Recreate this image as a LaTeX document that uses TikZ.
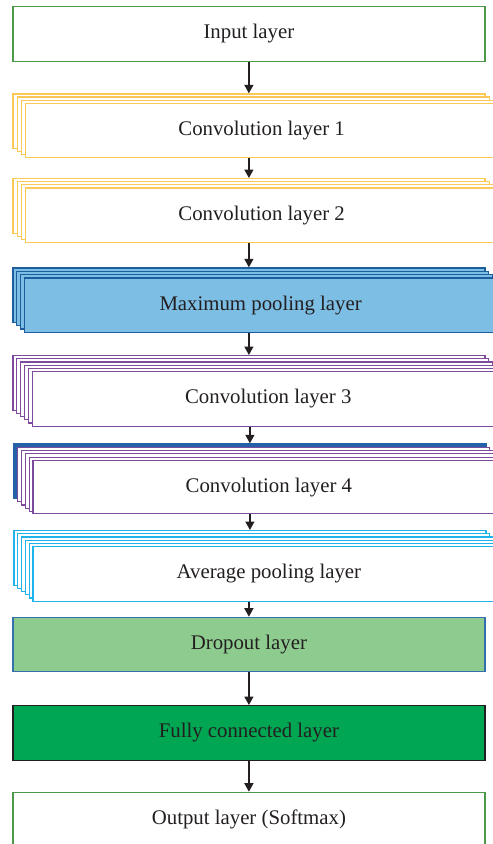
\documentclass[tikz,border=0pt]{standalone}
\usepackage{fontspec}
\setmainfont{Liberation Serif}
\usetikzlibrary{arrows.meta}

\definecolor{textgray}{HTML}{231F20}
\definecolor{iogreen}{HTML}{4C9A47}
\definecolor{convyellow}{HTML}{FCC856}
\definecolor{poolblue}{HTML}{7CBEE4}
\definecolor{pooledge}{HTML}{1D5E9C}
\definecolor{convpurple}{HTML}{7D4A9E}
\definecolor{deepblue}{HTML}{2461A8}
\definecolor{avgcyan}{HTML}{1EB3EA}
\definecolor{dropgreen}{HTML}{8ECB8F}
\definecolor{dropedge}{HTML}{3470AE}
\definecolor{fcgreen}{HTML}{00A651}

\begin{document}
\begin{tikzpicture}[x=1pt,y=-1pt,
  layer/.style={draw,line width=1.2pt,minimum width=472pt,minimum height=54.5pt,
    anchor=north west,inner sep=0pt,fill=white,
    font=\fontsize{20.8}{25}\selectfont,text=textgray},
  flow/.style={-{Triangle[length=8.5pt,width=9pt]},line width=1.3pt,draw=textgray}]
  \useasboundingbox (0,0) rectangle (493,844);
  \clip (0,0) rectangle (493,844);

  % input
  \node[layer,draw=iogreen] (input) at (12.3,6) {Input layer};

  % convolution 1 and 2
  \foreach \i in {0,...,2}
    \node[layer,draw=convyellow] (conv1-\i) at ({12.3+4.2*\i},{93.3+3.1*\i}) {};
  \node[layer,draw=convyellow] (conv1) at (25,102.7) {Convolution layer 1};
  \foreach \i in {0,...,2}
    \node[layer,draw=convyellow] (conv2-\i) at ({12.3+4.2*\i},{178+3.1*\i}) {};
  \node[layer,draw=convyellow] (conv2) at (25,187.4) {Convolution layer 2};

  % max pooling
  \foreach \i in {0,...,2}
    \node[layer,draw=pooledge,fill=poolblue] (maxp-\i) at ({12.3+3.9*\i},{267.3+3.3*\i}) {};
  \node[layer,draw=pooledge,fill=poolblue] (maxp) at (24,277.3) {Maximum pooling layer};

  % convolution 3 and 4
  \foreach \i in {0,...,4}
    \node[layer,draw=convpurple] (conv3-\i) at ({12.3+3.9*\i},{355+3.2*\i}) {};
  \node[layer,draw=convpurple] (conv3) at (31.7,371) {Convolution layer 3};
  \node[layer,draw=deepblue,fill=deepblue] (conv4-0) at (13.3,443.3) {};
  \foreach \i in {1,...,4}
    \node[layer,draw=convpurple] (conv4-\i) at ({13.3+3.8*\i},{443.3+3.3*\i}) {};
  \node[layer,draw=convpurple,minimum height=53pt] (conv4) at (32.3,460) {Convolution layer 4};

  % average pooling
  \foreach \i in {0,...,4}
    \node[layer,draw=avgcyan] (avgp-\i) at ({13.3+3.8*\i},{530+3.2*\i}) {};
  \node[layer,draw=avgcyan] (avgp) at (32.3,546) {Average pooling layer};

  % dropout, dense, output
  \node[layer,draw=dropedge,fill=dropgreen] (drop) at (12.3,616.7) {Dropout layer};
  \node[layer,draw=textgray,fill=fcgreen] (dense) at (12.3,705) {Fully connected layer};
  \node[layer,draw=iogreen] (output) at (12.3,791.7) {Output layer (Softmax)};

  % arrows
  \draw[flow] (input) -- (conv1-0);
  \draw[flow] (conv1.south -| conv2-0.north) -- (conv2-0);
  \draw[flow] (conv2.south -| maxp-0.north) -- (maxp-0);
  \draw[flow] (maxp.south -| conv3-0.north) -- (conv3-0);
  \draw[flow] (conv3.south -| conv4-0.north) -- (conv4-0);
  \draw[flow] (conv4.south -| avgp-0.north) -- (avgp-0);
  \draw[flow] (avgp.south -| drop.north) -- (drop);
  \draw[flow] (drop) -- (dense);
  \draw[flow] (dense) -- (output);
\end{tikzpicture}
\end{document}
